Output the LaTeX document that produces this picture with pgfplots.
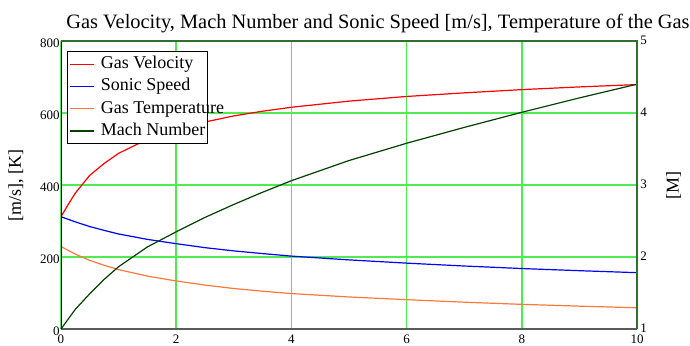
\documentclass[border=0pt]{standalone}
\usepackage{fontspec}
\setmainfont{Liberation Serif}
\usepackage{pgfplots}
\pgfplotsset{compat=1.18}
\definecolor{velred}{RGB}{255,0,0}
\definecolor{sonicblue}{RGB}{0,0,255}
\definecolor{temporange}{RGB}{255,120,60}
\definecolor{machgreen}{RGB}{0,64,0}
\definecolor{gridgreen}{RGB}{80,235,80}
\definecolor{framegreen}{RGB}{50,110,50}
\definecolor{framegray}{RGB}{90,90,90}
\begin{document}
\begin{tikzpicture}
\begin{axis}[
  at={(0,0)}, anchor=south west,
  scale only axis, width=288pt, height=144pt,
  xmin=0, xmax=10, ymin=0, ymax=800,
  xtick={0,2,...,10}, ytick={0,200,...,800},
  axis line style={draw=none},
  major tick length=0pt,
  grid=major, major grid style={gridgreen, line width=0.8pt},
  /pgf/number format/assume math mode=true,
  tick label style={font=\fontsize{6.5}{7}\selectfont},
  yticklabel style={anchor=east, inner sep=0pt, xshift=-0.5pt, yshift=-1pt},
  xticklabel style={anchor=north, inner sep=0pt, yshift=-2.8pt},
  every axis y label/.style={at={(axis description cs:0,0.5)}, xshift=-22.5pt, rotate=90, anchor=center},
  ylabel={[m/s], [K]},
  label style={font=\fontsize{9}{10}\selectfont},
  every axis title/.style={at={(axis description cs:0,1)}, anchor=base west, inner sep=0pt, xshift=2.5pt, yshift=6.35pt, font=\fontsize{10.2}{12}\selectfont},
  title={Gas Velocity, Mach Number and Sonic Speed [m/s], Temperature of the Gas},
  legend cell align=left,
  legend image code/.code={\draw[#1] (0pt,0pt) -- (12pt,0pt);},
  legend style={at={(axis description cs:0,1)}, anchor=north west, xshift=3pt, yshift=-5pt,
    draw=black, line width=0.6pt, fill=white, inner xsep=1pt, inner ysep=2pt,
    row sep=2.65pt, column sep=3pt,
    nodes={inner sep=0pt, text height=6.5pt, text depth=2pt, font=\fontsize{9}{10}\selectfont}},
]
\addplot[velred, line width=0.6pt] table {
x y
0 312
0.125 346
0.25 378
0.5 427
0.75 460
1 488
1.5 527
2 553
2.5 575
3 592
3.5 605
4 616
5 633
6 646
7 656
8 665
9 672.5
10 679
};
\addlegendentry{\makebox[52.5pt][l]{Gas Velocity}}
\addplot[sonicblue, line width=0.6pt] table {
x y
0 312
0.25 297.5
0.5 284.5
0.75 274
1 264
1.5 249
2 237
2.5 226
3 217
3.5 209.5
4 202.5
5 192
6 183
7 175
8 168
9 162
10 156.5
};
\addlegendentry{\makebox[52.5pt][l]{Sonic Speed}}
\addplot[temporange, line width=0.6pt] table {
x y
0 229
0.25 208
0.5 190.5
0.75 177
1 165
1.5 147
2 133.5
2.5 122
3 112.5
3.5 105
4 98.5
5 89
6 81.5
7 74.5
8 68.5
9 63.5
10 59
};
\addlegendentry{\makebox[52.5pt][l]{Gas Temperature}}
\addlegendimage{machgreen, line width=0.6pt}
\addlegendentry{\makebox[52.5pt][l]{Mach Number}}
\end{axis}
\begin{axis}[
  at={(0,0)}, anchor=south west,
  scale only axis, width=288pt, height=144pt,
  xmin=0, xmax=10, ymin=1, ymax=5,
  xtick=\empty, ytick={1,2,3,4,5},
  yticklabel pos=right,
  axis line style={draw=none},
  major tick length=0pt,
  clip=false,
  /pgf/number format/assume math mode=true,
  tick label style={font=\fontsize{6.5}{7}\selectfont},
  yticklabel style={anchor=west, inner sep=0pt, xshift=1.5pt, yshift=0.6pt},
  every axis y label/.style={at={(axis description cs:1,0.5)}, xshift=18.3pt, rotate=90, anchor=center},
  ylabel={[M]},
  label style={font=\fontsize{9}{10}\selectfont},
]
\addplot[machgreen, line width=0.6pt] table {
x y
0 1
0.25 1.275
0.5 1.49
0.75 1.69
1 1.865
1.5 2.14
2 2.35
2.5 2.55
3 2.73
3.5 2.90
4 3.06
5 3.34
6 3.58
7 3.80
8 4.01
9 4.21
10 4.40
};
\draw[framegray, line width=1pt] (rel axis cs:0,0) -- (rel axis cs:1,0);
\draw[black, line width=0.5pt] (rel axis cs:0,0) -- (rel axis cs:0,1);
\draw[framegreen, line width=1pt] (rel axis cs:0,1) -- (rel axis cs:1,1) -- (rel axis cs:1,0);
\end{axis}
\pgfresetboundingbox
\useasboundingbox (-30.5pt,-8pt) rectangle (314.5pt,164.5pt);
\end{tikzpicture}
\end{document}
